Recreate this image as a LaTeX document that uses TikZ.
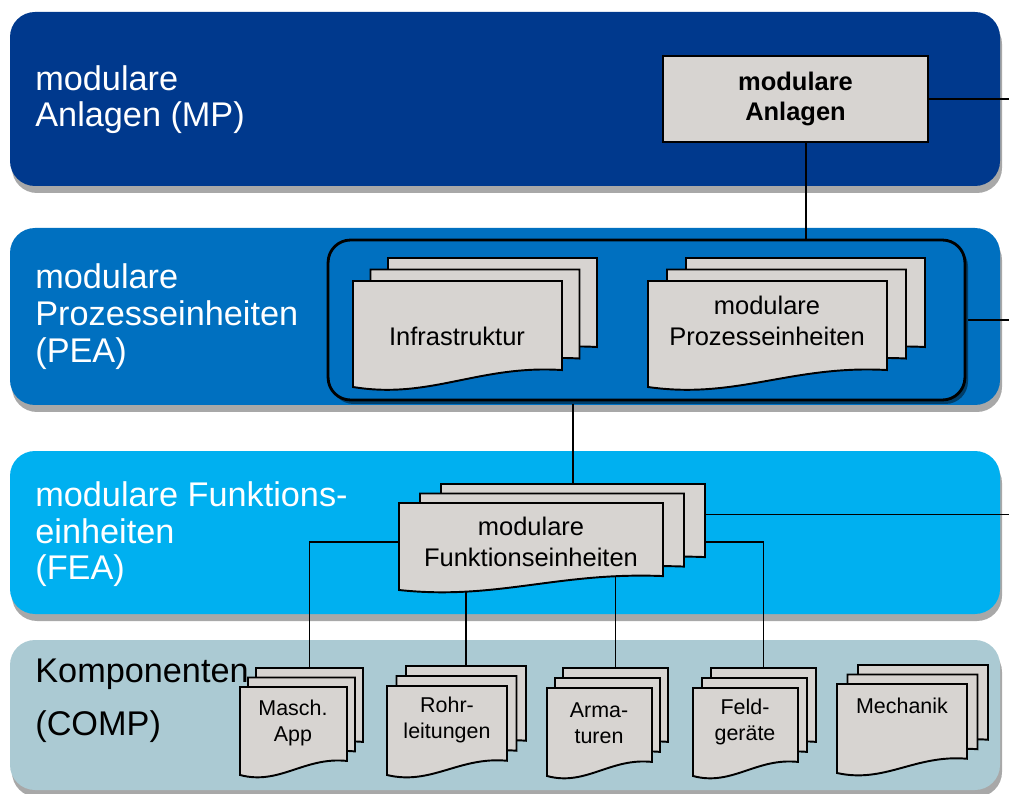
\documentclass[tikz,border=0pt]{standalone}
\usepackage{fontspec}
\setmainfont{Liberation Sans}
\usetikzlibrary{calc}
\pgfdeclarelayer{back}
\pgfdeclarelayer{links}
\pgfsetlayers{back,links,main}
\definecolor{mpblue}{HTML}{00398D}
\definecolor{peablue}{HTML}{0070C0}
\definecolor{feablue}{HTML}{00B0F0}
\definecolor{compgray}{HTML}{ABCAD3}
\definecolor{pagegray}{HTML}{D7D4D1}
\definecolor{shadowgray}{HTML}{A8A8A8}

\begin{document}
\begin{tikzpicture}[x=0.02cm, y=-0.02cm]
    \tikzstyle{band} = [rounded corners=0.5cm]
    \tikzstyle{layer} = [anchor=base west, align=left, inner sep=0pt, text=white, font=\fontsize{19.5}{20.8}\selectfont]
    \tikzstyle{page} = [draw=black, line width=1.1pt, fill=pagegray]
    \tikzstyle{big} = [align=center, inner sep=0pt, font=\fontsize{14.5}{17.5}\selectfont]
    \tikzstyle{small} = [align=center, inner sep=0pt, font=\fontsize{12.2}{14.8}\selectfont]
    \tikzstyle{link} = [line width=0.9pt]

    \useasboundingbox (0,0) rectangle (1009,794);
    \coordinate (edge) at (1009,0);

    % layer bands with their labels
    \begin{pgfonlayer}{back}
        \foreach \ya/\yb/\col in {12/186/mpblue, 228/405/peablue, 451/614/feablue, 640/790/compgray} {
            \fill[band, shadowgray] (12,\ya+7) rectangle (1002,\yb+7);
            \fill[band, \col] (10,\ya) rectangle (1000,\yb);
        }
        \node[layer] (mp-label) at (35,127) {modulare\\Anlagen (MP)};
        \node[layer] (pea-label) at (35,362) {modulare\\Prozesseinheiten\\(PEA)};
        \node[layer] (fea-label) at (35,580) {modulare Funktions-\\einheiten\\(FEA)};
        \node[layer, text=black] (comp-label) at (35,735) {Komponenten\\[9pt](COMP)};
    \end{pgfonlayer}

    \node[page, minimum width=5.3cm, minimum height=1.72cm, inner sep=0pt, align=center,
          font=\bfseries\fontsize{14.5}{17.5}\selectfont] (mp) at (795.5,99) {modulare\\Anlagen};

    \fill[peablue!55!black, rounded corners=0.45cm] (331,244) rectangle (968,404);
    \node[draw=black, line width=1.6pt, fill=peablue, rounded corners=0.45cm,
          minimum width=12.74cm, minimum height=3.2cm] (pea) at (646.5,320) {};

    % stacked pages: left, top, width, height, offset
    \foreach \xl/\yt/\w/\h/\dx/\dy/\n in {353/281/209/106/17.5/11.5/infra, 648/281/239/106/19/11.5/pe,
            399/503/264/87/21/9.5/fea, 240/687/107/88/8/9.5/masch, 387/686/120/89/9.5/10/rohr,
            547/688/105/88/8/10/arma, 693/688/105/88/9/10/feld, 837/684/130/89/10.5/9.5/mech} {
        \foreach \k in {2,1,0}
            \draw[page, shift={(\xl+\k*\dx,\yt-\k*\dy)}] (0,0) -- (\w,0) -- (\w,0.84*\h)
                .. controls (0.6*\w,0.79*\h) and (0.37*\w,1.12*\h) .. (0,\h) -- cycle;
        \coordinate (\n-top) at (\xl+2*\dx+0.5*\w,\yt-2*\dy);
        \coordinate (\n-right) at (\xl+2*\dx+\w,\yt-2*\dy+0.35*\h);
    }

    \node[big] (infra) at (457,336) {Infrastruktur};
    \node[big] (pe) at (767,321) {modulare\\Prozesseinheiten};
    \node[big] (fea) at (531,542) {modulare\\Funktionseinheiten};
    \node[small] (masch) at (293,723) {Masch.\\App};
    \node[small] (rohr) at (447,720) {Rohr-\\leitungen};
    \node[small] (arma) at (599,723) {Arma-\\turen};
    \node[small] (feld) at (745,722) {Feld-\\geräte};
    \node[small] (mech) at (902,706) {Mechanik};

    % connectors, kept under the pages
    \begin{pgfonlayer}{links}
        \coordinate (mp-link) at ($(mp.south west)!0.54!(mp.south east)$);
        \draw[link] (mp.east) -- (mp.east -| edge);
        \draw[link] (mp-link) -- (mp-link |- pea.north);
        \draw[link] (pea.east) -- (pea.east -| edge);
        \draw[link] (pea.south -| fea-top) -- (fea-top);
        \draw[link] (fea-right) -- (fea-right -| edge);
        \draw[link] (fea.center) -| (masch-top);
        \draw[link] (fea.center) -| (feld-top);
        \draw[link] (rohr-top) -- (rohr-top |- fea.center);
        \draw[link] (arma-top) -- (arma-top |- fea.center);
    \end{pgfonlayer}
\end{tikzpicture}
\end{document}
